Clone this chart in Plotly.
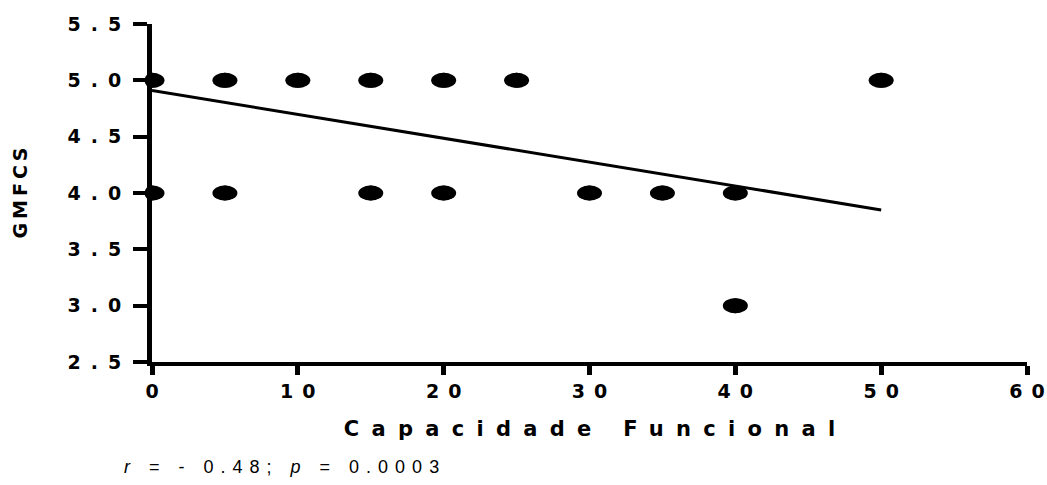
import plotly.graph_objects as go

# ---- data ----
capacidade = [0, 0, 5, 5, 10, 15, 15, 20, 20, 25, 30, 35, 40, 40, 50]
gmfcs = [5, 4, 5, 4, 5, 5, 4, 5, 4, 5, 4, 4, 4, 3, 5]
fit_x = [0, 50]
fit_y = [4.91, 3.85]
x_ticks = [0, 10, 20, 30, 40, 50, 60]
y_ticks = [2.5, 3.0, 3.5, 4.0, 4.5, 5.0, 5.5]
x_title = "Capacidade Funcional"
y_title = "GMFCS"
stats_text = "<i>r</i> = - 0.48; <i>p</i> = 0.0003"

BOLD_FONT = "DejaVu Sans, Liberation Sans, Arial, sans-serif"
TEXT_FONT = "Liberation Sans, Arial, sans-serif"


def spaced(text, px):
    # letter-spacing between characters, none after the last one
    if len(text) < 2:
        return text
    return f'<span style="letter-spacing:{px}px">{text[:-1]}</span>{text[-1]}'


fig = go.Figure()

# points (circle markers underneath the elliptical shapes)
fig.add_trace(go.Scatter(
    x=capacidade, y=gmfcs, mode="markers",
    marker=dict(size=15, color="black", line=dict(width=0)),
    cliponaxis=False, hoverinfo="x+y", name="dados"))

# regression line
fig.add_trace(go.Scatter(
    x=fit_x, y=fit_y, mode="lines",
    line=dict(color="black", width=3), name="regressão"))

shapes = [
    dict(type="circle", xref="x", yref="y", xsizemode="pixel", ysizemode="pixel",
         xanchor=xv, yanchor=yv, x0=-12.5, x1=12.5, y0=-7.5, y1=7.5,
         fillcolor="black", line=dict(width=0), layer="above")
    for xv, yv in zip(capacidade, gmfcs)
]

fig.update_layout(
    width=1047, height=485,
    margin=dict(l=152, r=20, t=24, b=123),
    plot_bgcolor="white", paper_bgcolor="white",
    showlegend=False,
    font=dict(family=TEXT_FONT, color="black"),
    shapes=shapes,
    xaxis=dict(
        range=[0, 60], tickmode="array", tickvals=x_ticks,
        ticktext=[spaced(str(v), 9) for v in x_ticks],
        ticklabeloverflow="allow",
        showgrid=False, zeroline=False,
        showline=True, linecolor="black", linewidth=4,
        ticks="outside", ticklen=9, tickwidth=5, tickcolor="black",
        tickfont=dict(family=BOLD_FONT, size=19, color="black", weight="bold"),
        title=dict(text=spaced(x_title, 12.3),
                   font=dict(family=BOLD_FONT, size=21, color="black", weight="bold"),
                   standoff=22),
        automargin=False,
    ),
    yaxis=dict(
        range=[2.5, 5.5], tickmode="array", tickvals=y_ticks,
        ticktext=[spaced(f"{v:.1f}", 10) for v in y_ticks],
        ticklabelstandoff=8,
        showgrid=False, zeroline=False,
        showline=True, linecolor="black", linewidth=5,
        ticks="outside", ticklen=14, tickwidth=3.5, tickcolor="black",
        tickfont=dict(family=BOLD_FONT, size=19, color="black", weight="bold"),
        title=dict(text=spaced(y_title, 4),
                   font=dict(family=BOLD_FONT, size=19, color="black", weight="bold"),
                   standoff=36),
        automargin=False,
    ),
    annotations=[dict(
        text=spaced(stats_text, 7), xref="paper", yref="paper",
        x=-0.034, y=-0.31, xanchor="left", yanchor="middle", showarrow=False,
        font=dict(family=TEXT_FONT, size=18, color="black"))],
)

fig.write_html("out.html", config={"displayModeBar": False},
               post_script="document.body.style.margin='0';")
